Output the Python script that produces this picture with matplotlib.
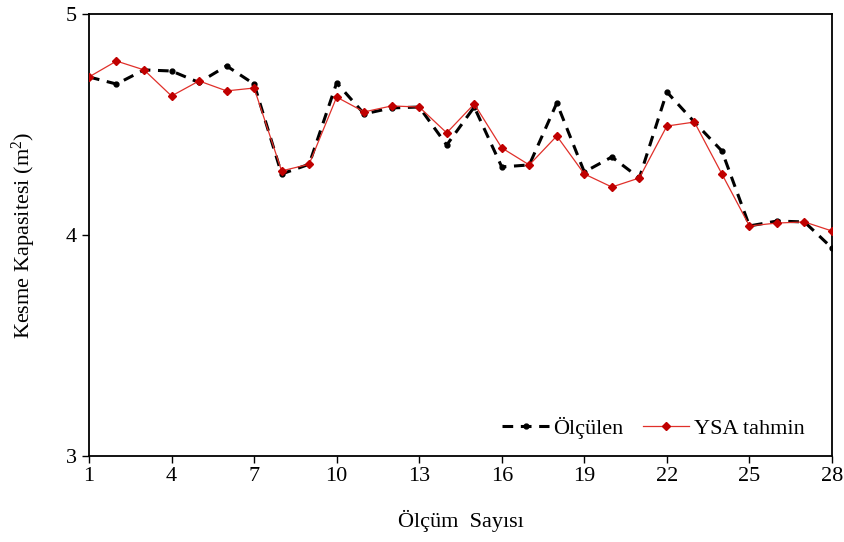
import matplotlib
matplotlib.use('Agg')
import matplotlib.pyplot as plt

plt.rcParams['font.family'] = ['Liberation Serif', 'DejaVu Serif']
plt.rcParams['mathtext.fontset'] = 'custom'
plt.rcParams['mathtext.rm'] = 'Liberation Serif'

olcum_no = list(range(1, 29))
olculen = [4.715, 4.683, 4.747, 4.742, 4.690, 4.765, 4.683, 4.276, 4.320, 4.688,
           4.548, 4.575, 4.579, 4.407, 4.579, 4.308, 4.317, 4.597, 4.285, 4.353,
           4.258, 4.647, 4.511, 4.380, 4.041, 4.063, 4.059, 3.941]
ysa_tahmin = [4.715, 4.787, 4.747, 4.629, 4.697, 4.652, 4.665, 4.290, 4.320, 4.624,
              4.557, 4.584, 4.579, 4.462, 4.593, 4.394, 4.317, 4.448, 4.276, 4.217,
              4.258, 4.493, 4.511, 4.276, 4.041, 4.054, 4.059, 4.018]

fig = plt.figure(figsize=(8.45, 5.42), dpi=100)
ax = fig.add_axes([0.1053, 0.1587, 0.8793, 0.8155])

ax.plot(olcum_no, olculen, color='black', linestyle=(0, (3.5, 2.5)), linewidth=2.2,
        marker='o', markersize=3.5, label='Ölçülen', zorder=2)
ax.plot(olcum_no, ysa_tahmin, color='#e0302a', linewidth=0.9,
        marker='D', markersize=4.5, markerfacecolor='#c00000', markeredgecolor='#c00000',
        label='YSA tahmin', zorder=3)

ax.set_xlim(1, 28)
ax.set_ylim(3, 5)
ax.set_xticks(range(1, 29, 3))
ax.set_yticks([3, 4, 5])
ax.tick_params(direction='out', length=5, width=1, labelsize=16, pad=4)
ax.tick_params(axis='x', pad=3)
for s in ax.spines.values():
    s.set_linewidth(1.3)

ax.set_xlabel('Ölçüm  Sayısı', fontsize=16, labelpad=17)
ax.set_ylabel('Kesme Kapasitesi (m$\\mathregular{^2}$)', fontsize=16, labelpad=20)

ax.legend(loc='center right', frameon=False, fontsize=16, ncol=2,
          handlelength=2.1, columnspacing=0.85, handletextpad=0.2,
          bbox_to_anchor=(0.975, 0.063), borderaxespad=0)

fig.savefig('out.png', dpi=100)
